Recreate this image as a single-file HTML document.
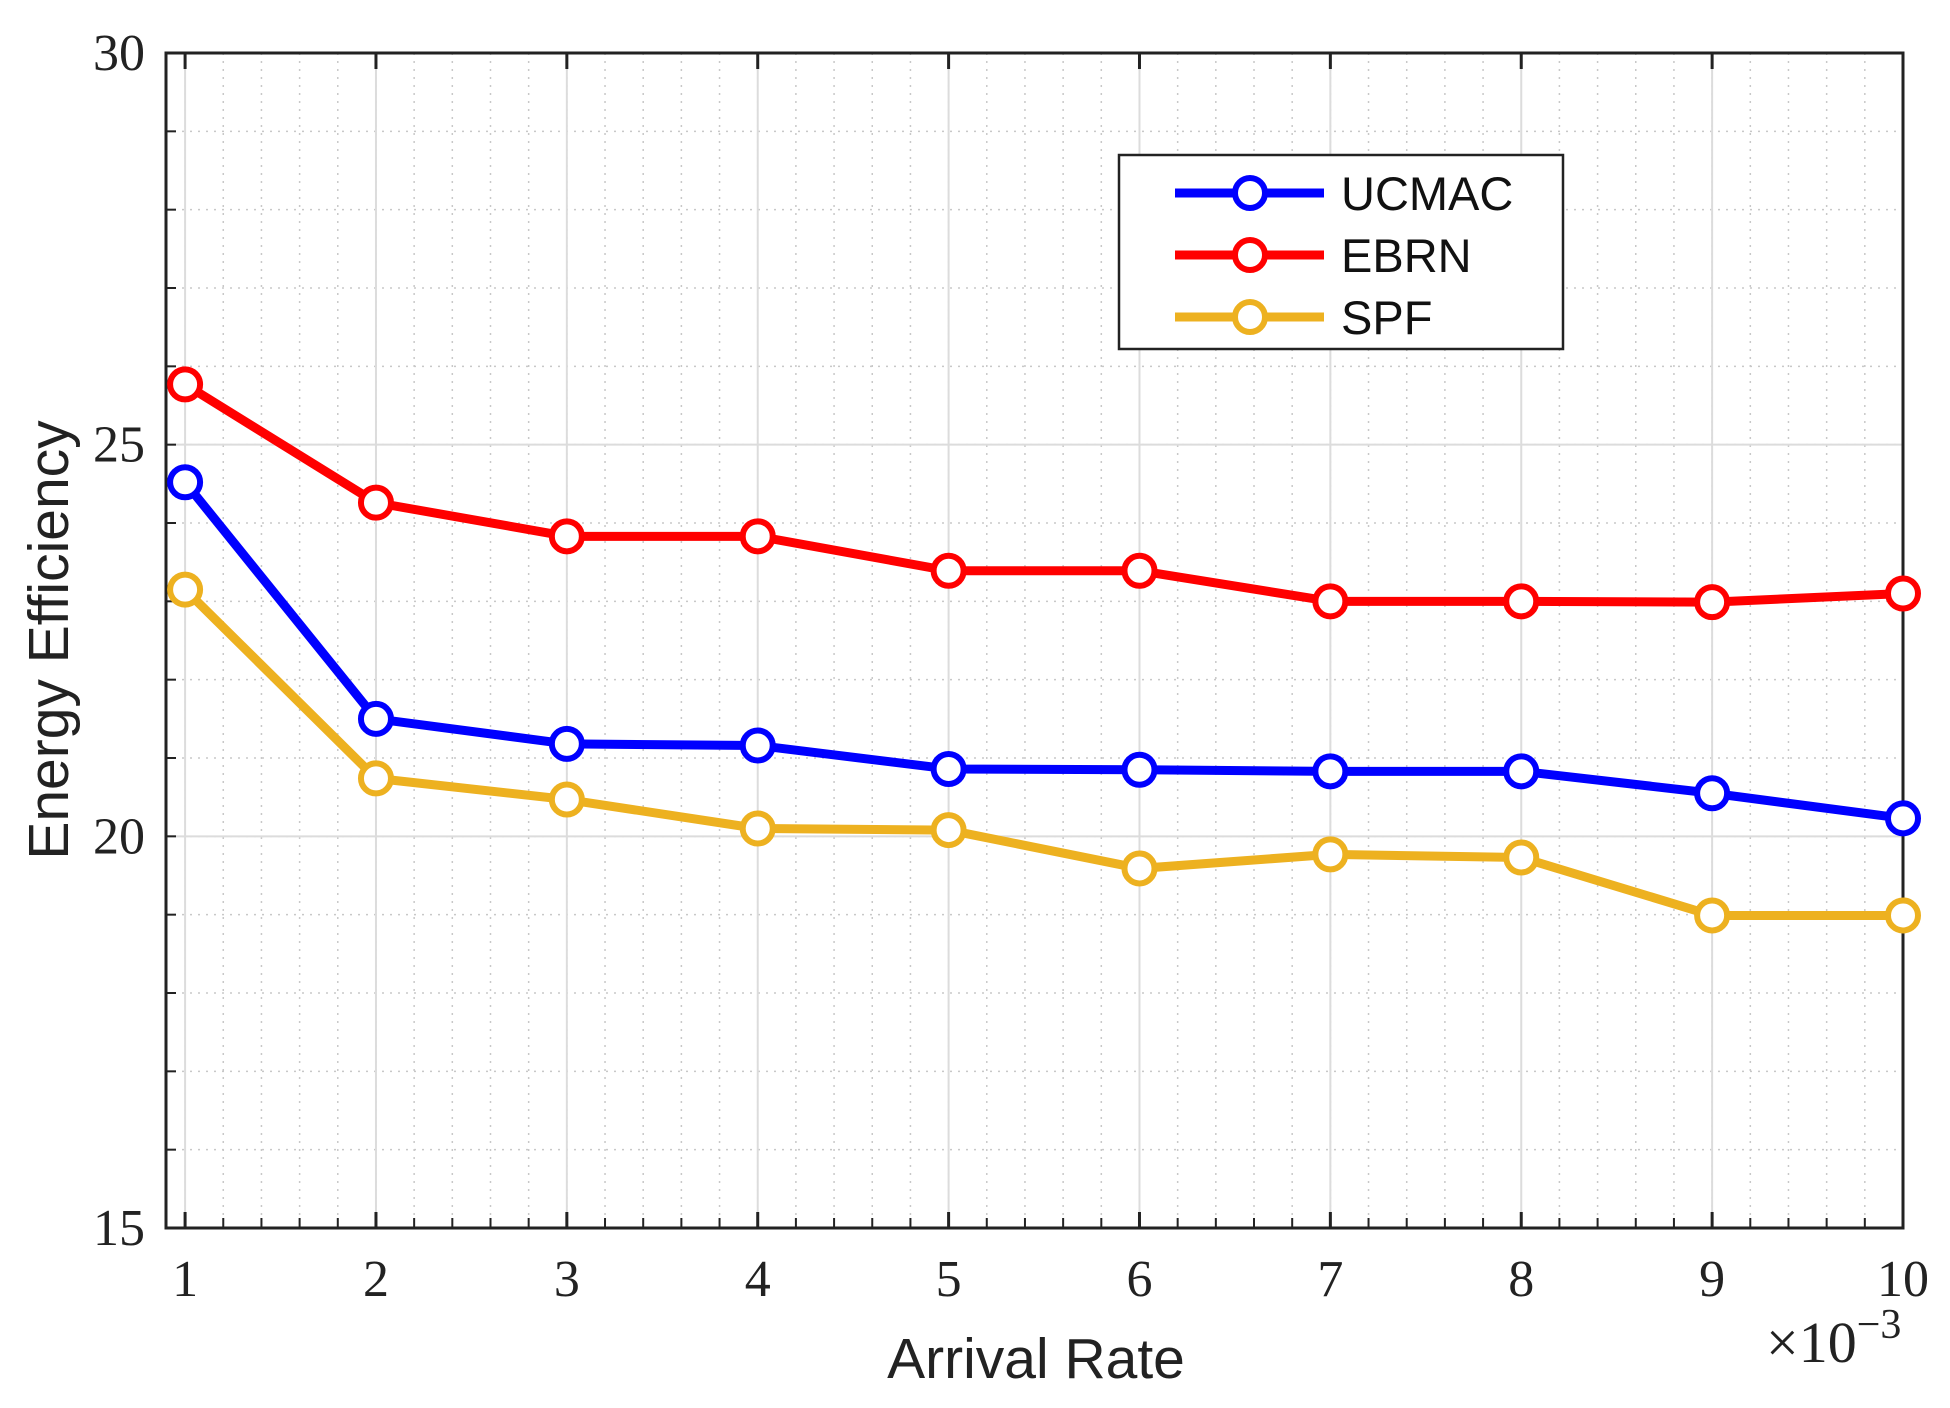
<!DOCTYPE html>
<html><head><meta charset="utf-8"><style>
html,body{margin:0;padding:0;background:#fff}
svg{display:block}
.tick{font-family:"Liberation Serif",serif;font-size:52px;fill:#222}
.lab{font-family:"Liberation Sans",sans-serif;font-size:57px;fill:#222}
.leg{font-family:"Liberation Sans",sans-serif;font-size:47px;fill:#111}
</style></head><body>
<svg id="chart" width="1950" height="1408" viewBox="0 0 1950 1408" xmlns="http://www.w3.org/2000/svg">
<g id="grid"></g>
<g id="axes"></g>
<g id="series"></g>
<text class="lab" x="1036" y="1378" text-anchor="middle">Arrival Rate</text>
<text class="lab" transform="translate(68,640) rotate(-90)" text-anchor="middle">Energy Efficiency</text>
<text class="tick" x="1766" y="1362" style="font-size:58px">×10<tspan dy="-24" style="font-size:42px">−3</tspan></text>
<g id="legend"></g>
</svg>
<script>
const categories=[1,2,3,4,5,6,7,8,9,10];
const seriesNames=["UCMAC","EBRN","SPF"];
const ucmac=[24.52,21.5,21.18,21.16,20.86,20.85,20.83,20.83,20.55,20.23];
const ebrn=[25.77,24.26,23.83,23.83,23.39,23.39,23.0,23.0,22.99,23.1];
const spf=[23.15,20.74,20.47,20.1,20.08,19.59,19.77,19.73,18.99,18.99];
const yTicks=[15,20,25,30];
const xTicks=[1,2,3,4,5,6,7,8,9,10];
const colors=["#0000ff","#ff0000","#edb120"];
const L=166,R=1903,T=53,B=1228,X0=0.9,X1=10,Y0=15,Y1=30;
const sx=v=>L+(v-X0)/(X1-X0)*(R-L);
const sy=v=>B-(v-Y0)/(Y1-Y0)*(B-T);
const NS="http://www.w3.org/2000/svg";
function mk(tag,attrs,parent){const e=document.createElementNS(NS,tag);for(const k in attrs)e.setAttribute(k,attrs[k]);parent.appendChild(e);return e;}
const grid=document.getElementById('grid'),axes=document.getElementById('axes'),ser=document.getElementById('series'),leg=document.getElementById('legend');
for(let v=1;v<=10.001;v+=0.2){const x=sx(v);const g=mk('line',{x1:x,x2:x,y1:T,y2:B,stroke:'#c8c8c8','stroke-width':1.5,'stroke-dasharray':'2 6'},grid);
 const t=mk('line',{x1:x,x2:x,y1:B,y2:B-10,stroke:'#222','stroke-width':2},axes);}
for(let v=15;v<=30;v+=1){const y=sy(v);const g=mk('line',{x1:L,x2:R,y1:y,y2:y,stroke:'#c8c8c8','stroke-width':1.5,'stroke-dasharray':'2 6'},grid);
 const t=mk('line',{x1:L,x2:L+10,y1:y,y2:y,stroke:'#222','stroke-width':2},axes);}
xTicks.forEach(v=>{const x=sx(v);const g=mk('line',{x1:x,x2:x,y1:T,y2:B,stroke:'#dcdcdc','stroke-width':2},grid);
 const t=mk('line',{x1:x,x2:x,y1:B,y2:B-16,stroke:'#222','stroke-width':3},axes);
 const t2=mk('line',{x1:x,x2:x,y1:T,y2:T+16,stroke:'#222','stroke-width':3},axes);
 const l=mk('text',{x:x,y:1296,'text-anchor':'middle',class:'tick'},axes);l.textContent=v;});
yTicks.forEach(v=>{const y=sy(v);const g=mk('line',{x1:L,x2:R,y1:y,y2:y,stroke:'#dcdcdc','stroke-width':2},grid);
 const l=mk('text',{x:145,y:y+17,'text-anchor':'end',class:'tick'},axes);l.textContent=v;});
const box=mk('rect',{x:L,y:T,width:R-L,height:B-T,fill:'none',stroke:'#222','stroke-width':3},axes);


[ucmac,ebrn,spf].forEach((data,i)=>{
 const p=mk('polyline',{points:data.map((v,j)=>sx(categories[j])+','+sy(v)).join(' '),fill:'none',stroke:colors[i],'stroke-width':9,'stroke-linejoin':'round'},ser);
 
 
 data.forEach((v,j)=>{const c=mk('circle',{cx:sx(categories[j]),cy:sy(v),r:15,fill:'#fff',stroke:colors[i],'stroke-width':6},ser);
  
  });
});
const lb=mk('rect',{x:1119,y:155,width:444,height:194,fill:'#fff',stroke:'#222','stroke-width':2.5},leg);


seriesNames.forEach((n,i)=>{const y=193+i*62;
 const g=mk('g',{},leg);
 
 
 mk('line',{x1:1175,x2:1324,y1:y,y2:y,stroke:colors[i],'stroke-width':9},g);
 mk('circle',{cx:1250,cy:y,r:15,fill:'#fff',stroke:colors[i],'stroke-width':6},g);
 const t=mk('text',{x:1341,y:y+17,class:'leg'},g);t.textContent=n;});
</script>
</body></html>
